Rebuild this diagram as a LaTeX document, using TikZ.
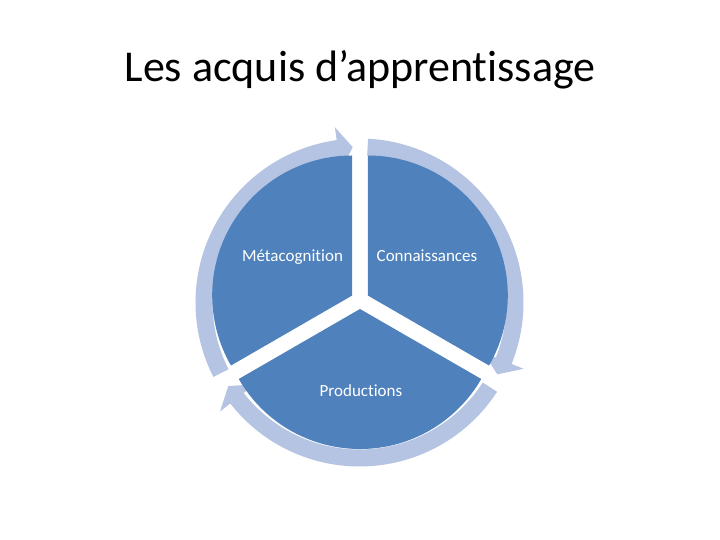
\documentclass[tikz,border=0pt]{standalone}
\usepackage{fontspec}
\setmainfont{Carlito}[Ligatures={NoCommon,NoContextual}, Contextuals=NoAlternate]
\usetikzlibrary{calc}
\definecolor{pieblue}{RGB}{79,129,189}
\definecolor{ringblue}{RGB}{181,196,226}
\tikzset{
  piece/.style={fill=pieblue},
  ringarrow/.style={fill=ringblue},
  lbl/.style={text=white, font=\fontsize{17}{20}\selectfont, anchor=base, inner sep=0pt},
  ttl/.style={text=black, font=\fontsize{44}{52}\selectfont, anchor=base, inner sep=0pt}
}
% ring arrow: #1 start angle, #2 head back angle, #3 tip angle
\newcommand{\ringarr}[3]{%
  \fill[ringarrow] ($(RC)+(#1:164)$) arc[start angle=#1, end angle=#2, radius=164]
    -- ($(RC)+(#2:177)$) -- ($(RC)+(#3:155.5)$) -- ($(RC)+(#2:133)$)
    -- ($(RC)+(#2:147)$) arc[start angle=#2, end angle=#1, radius=147] -- cycle;}
\begin{document}
\begin{tikzpicture}[x=1pt,y=1pt]
\useasboundingbox (0,0) rectangle (720,540);
\fill[white] (0,0) rectangle (720,540);
\coordinate (RC) at (359.5,237.5);
\coordinate (PC) at (360,240);
% ring arrows
\ringarr{207}{98}{92.5}
\ringarr{87}{-22}{-27.5}
\ringarr{-33}{-142}{-147.5}
% pie pieces (exploded)
\coordinate (c1) at ($(PC)+(150:9)$);
\coordinate (c2) at ($(PC)+(30:9)$);
\coordinate (c3) at ($(PC)+(270:9)$);
\fill[piece] (c1) -- ++(90:140) arc[start angle=90, end angle=210, radius=140] -- cycle;
\fill[piece] (c2) -- ++(90:140) arc[start angle=90, end angle=-30, radius=140] -- cycle;
\fill[piece] (c3) -- ++(210:140) arc[start angle=210, end angle=330, radius=140] -- cycle;
% labels
\node[lbl] (meta) at (292.5,278) {Métacognition};
\node[lbl] (conn) at (427,278) {Connaissances};
\node[lbl] (prod) at (361,143) {Productions};
\node[ttl] (title) at (360,458) {Les acquis d’apprentissage};
\end{tikzpicture}
\end{document}
